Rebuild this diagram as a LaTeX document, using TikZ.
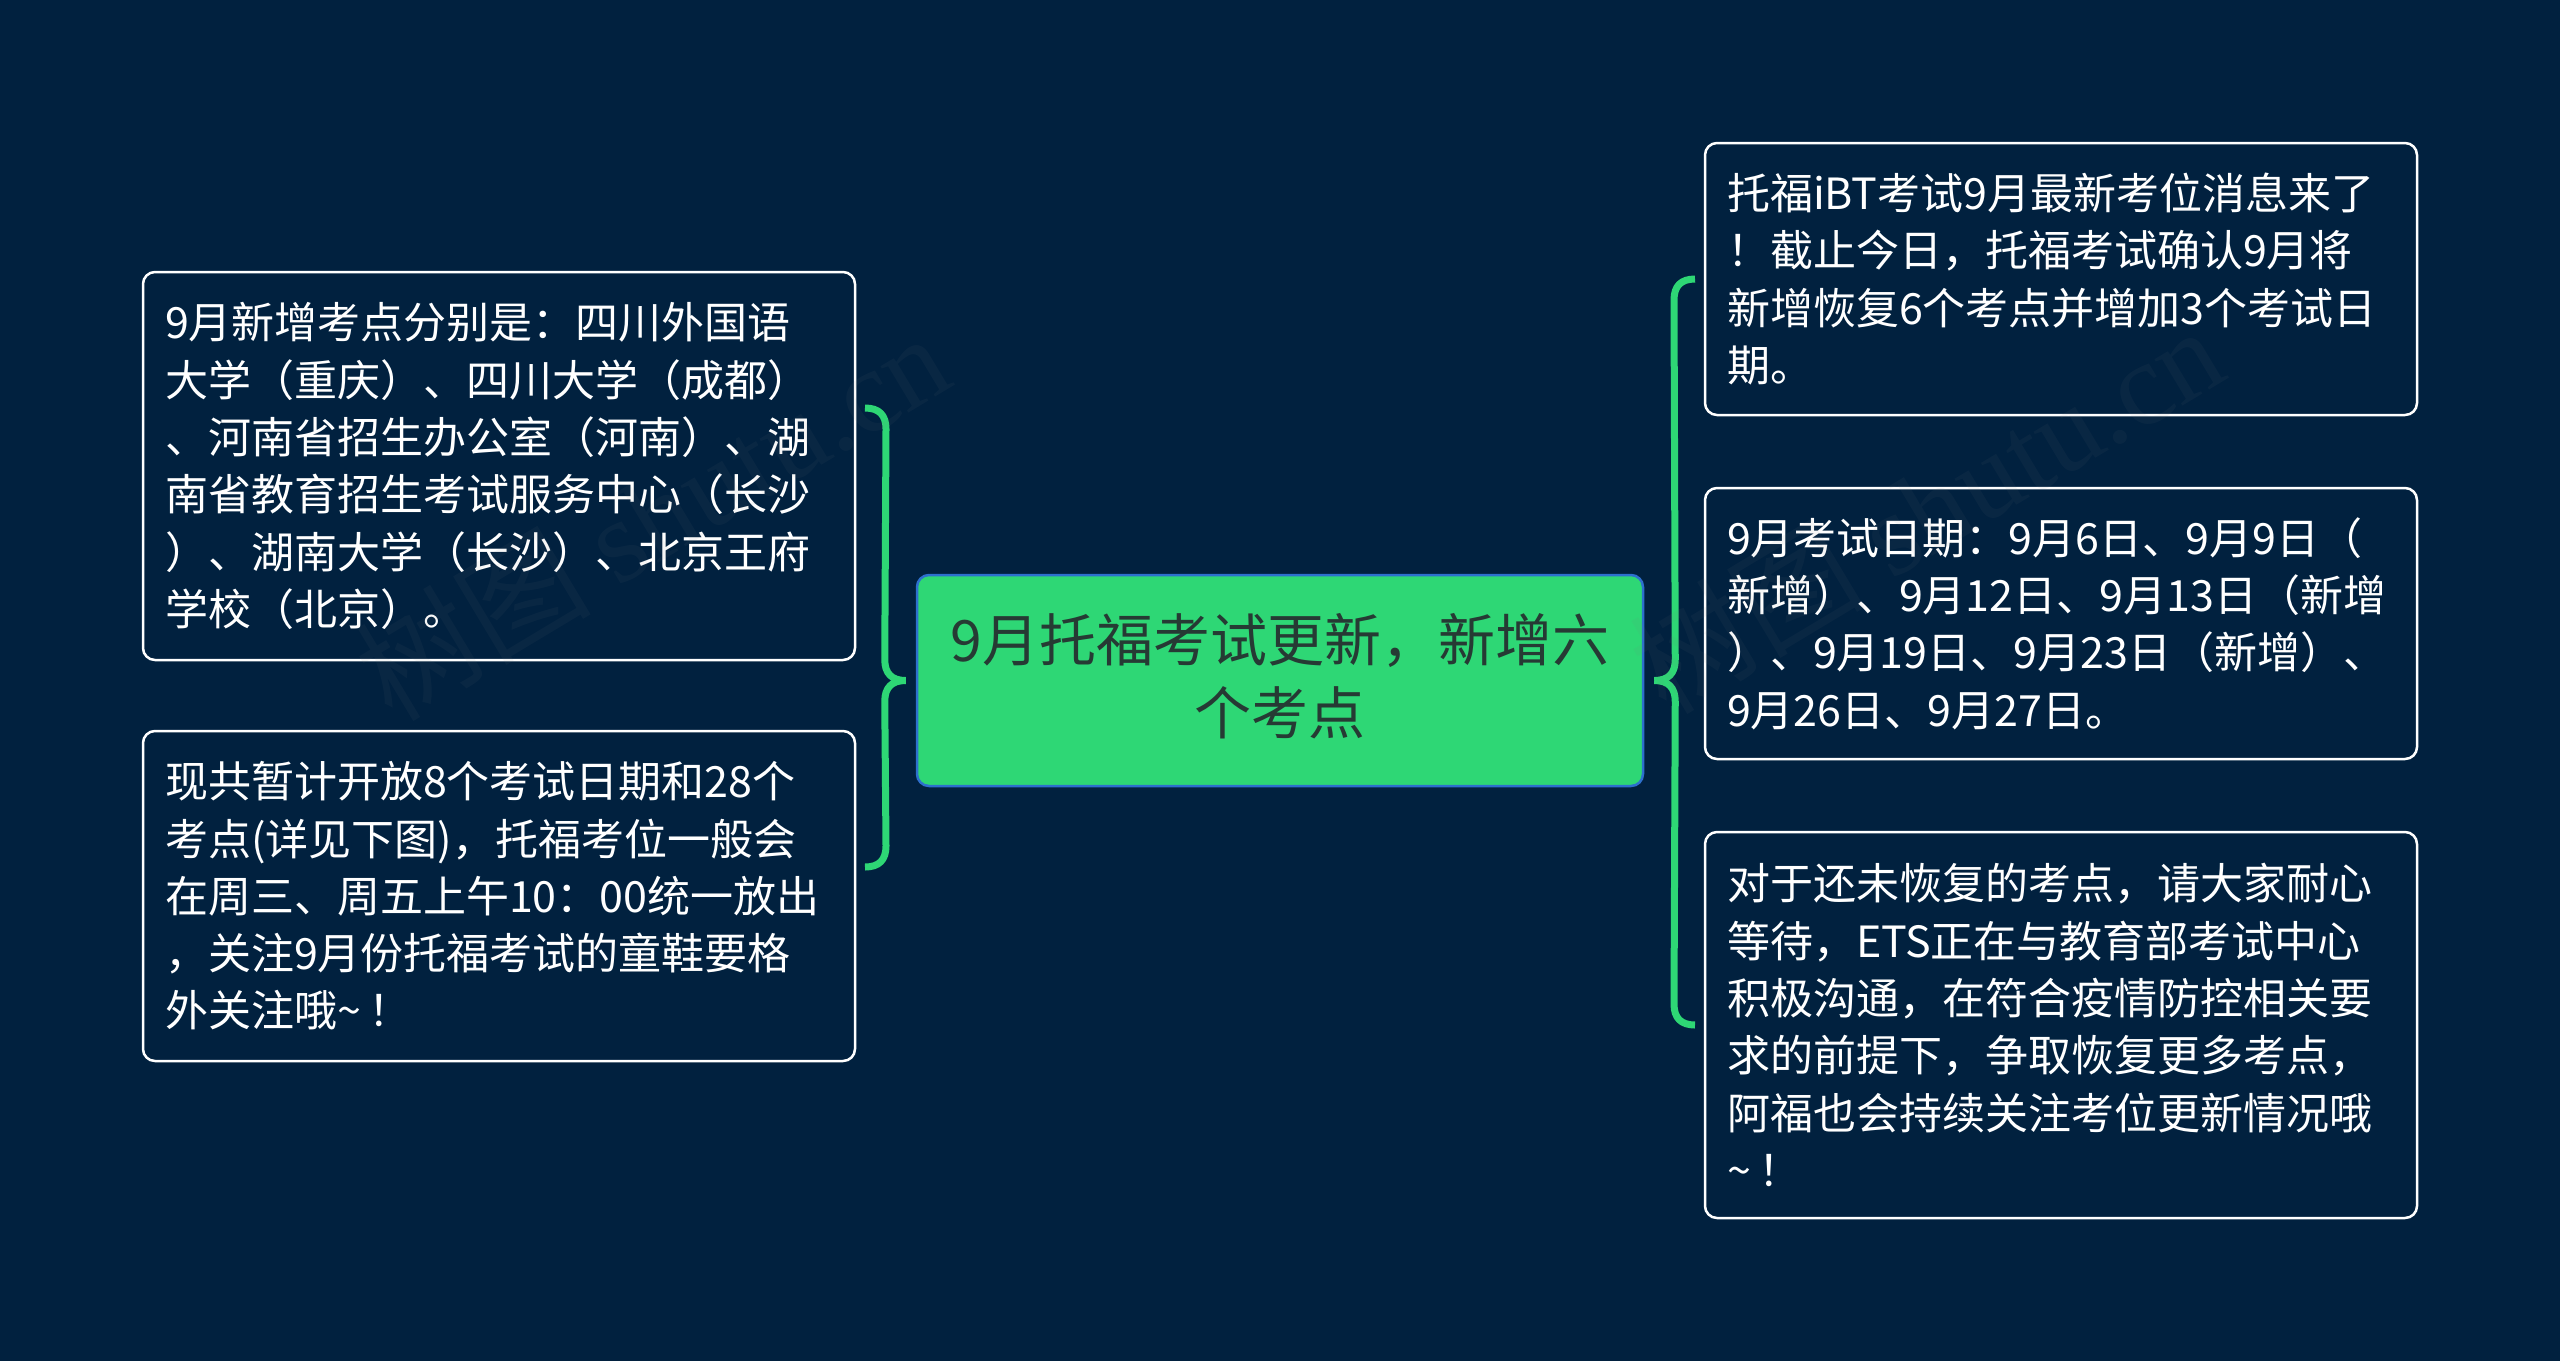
\documentclass[tikz,border=0pt]{standalone}
\usepackage{fontspec}
\setmainfont{Noto Sans CJK SC}
\newfontfamily\markfont{Liberation Serif}
\usetikzlibrary{calc}
\definecolor{pagenavy}{RGB}{1,33,63}
\definecolor{mapgreen}{RGB}{46,215,117}
\definecolor{mapblue}{RGB}{45,112,205}
\definecolor{rootink}{RGB}{38,58,52}

\begin{document}
\begin{tikzpicture}[
  x=1pt,y=-1pt,
  leaf/.style={draw=white,line width=2.5pt,rounded corners=12pt,text=white,
               minimum width=712pt,text width=668pt,inner xsep=22pt,inner ysep=0pt,align=left,
               font=\fontsize{43}{57.3}\selectfont},
  rootbox/.style={draw=mapblue,line width=2.5pt,rounded corners=12pt,fill=mapgreen,text=rootink,
               minimum width=726pt,minimum height=211pt,text width=690pt,inner sep=0pt,align=center,
               font=\fontsize{57}{73}\selectfont},
  brace/.style={draw=mapgreen,line width=7pt},
  wmark/.style={gray,opacity=0.07,rotate=31,font=\fontsize{118}{118}\selectfont}
]
  \fill[pagenavy] (0,0) rectangle (2560,1361);
  \useasboundingbox (0,0) rectangle (2560,1361);

  \node[rootbox] (root) at (1280,680.5) {9月托福考试更新，新增六\\个考点\par\vspace{8pt}};

  \node[leaf,minimum height=388pt] (leftone) at (499,466) {9月新增考点分别是：四川外国语\\大学（重庆）、四川大学（成都）\\、河南省招生办公室（河南）、湖\\南省教育招生考试服务中心（长沙\\）、湖南大学（长沙）、北京王府\\学校（北京）。};
  \node[leaf,minimum height=330pt] (lefttwo) at (499,896) {现共暂计开放8个考试日期和28个\\考点(详见下图)，托福考位一般会\\在周三、周五上午10：00统一放出\\，关注9月份托福考试的童鞋要格\\外关注哦\textasciitilde\kern8pt！};

  \node[leaf,minimum height=272pt] (rightone) at (2061,279) {托福iBT考试9月最新考位消息来了\\！截止今日，托福考试确认9月将\\新增恢复6个考点并增加3个考试日\\期。};
  \node[leaf,minimum height=271pt] (righttwo) at (2061,623.5) {9月考试日期：9月6日、9月9日（\\新增）、9月12日、9月13日（新增\\）、9月19日、9月23日（新增）、\\9月26日、9月27日。};
  \node[leaf,minimum height=386pt] (rightthree) at (2061,1025) {对于还未恢复的考点，请大家耐心\\等待，ETS正在与教育部考试中心\\积极沟通，在符合疫情防控相关要\\求的前提下，争取恢复更多考点，\\阿福也会持续关注考位更新情况哦\\\textasciitilde\kern8pt！};

  \coordinate (lefttip) at ($(root.west)+(-10,0)$);
  \coordinate (righttip) at ($(root.east)+(10,0)$);
  \coordinate (lefttop) at (865,408);
  \coordinate (leftbot) at (865,867);
  \coordinate (righttop) at (1695,279);
  \coordinate (rightbot) at (1695,1025);

  \foreach \tipname/\endname/\sx/\sy in {lefttip/lefttop/-1/1,lefttip/leftbot/-1/-1,righttip/righttop/1/1,righttip/rightbot/1/-1}
    \draw[brace] (\tipname) .. controls +({\sx*14},0) and +(0,{\sy*14}) .. ++({\sx*21},{\sy*-21})
      -- ($(\endname)+({\sx*-21},{\sy*21})$) .. controls +(0,{\sy*-14}) and +({\sx*-14},0) .. (\endname);

  \node[wmark] (markleft) at (652,515) {树图 {\markfont shutu.cn}};
  \node[wmark] (markright) at (1926,508) {树图 {\markfont shutu.cn}};
\end{tikzpicture}
\end{document}
